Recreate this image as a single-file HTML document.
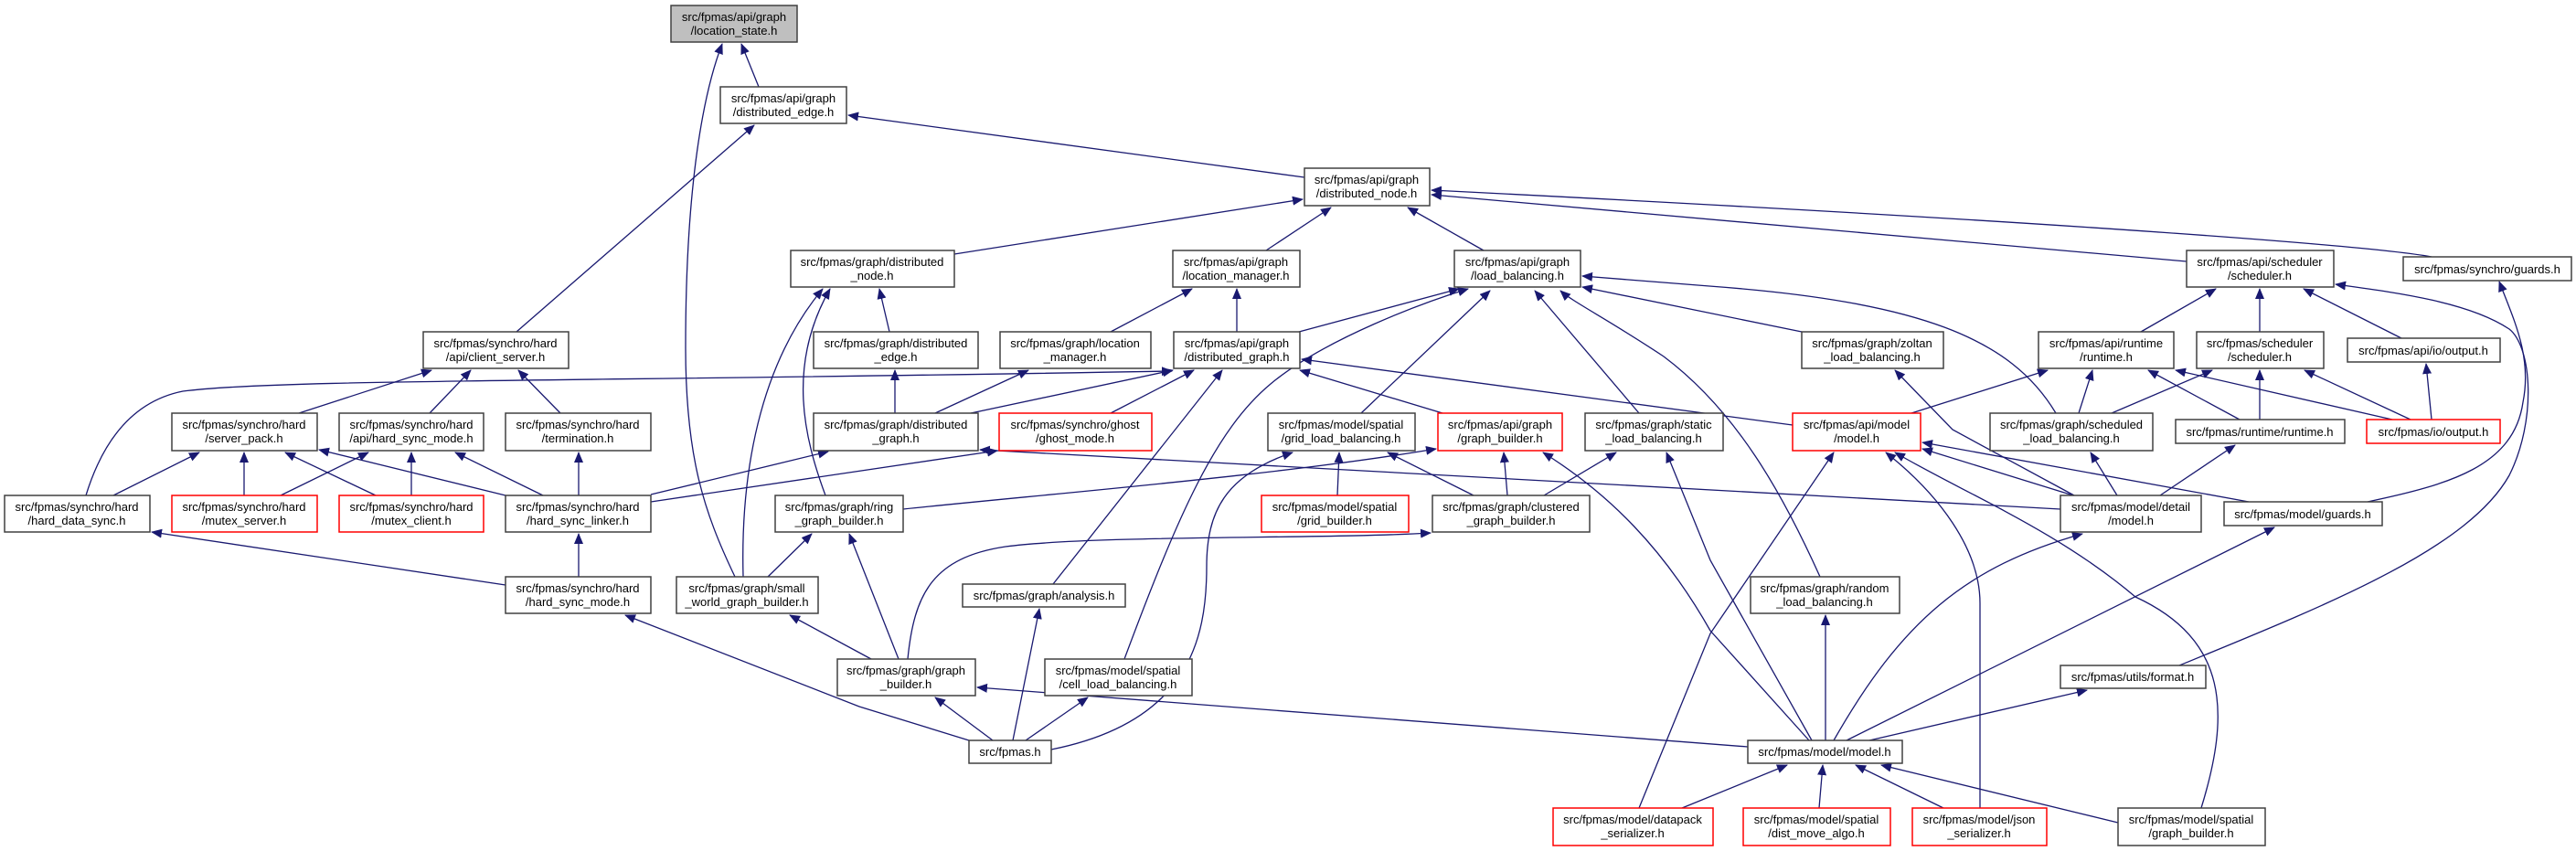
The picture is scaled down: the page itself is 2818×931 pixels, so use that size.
<!DOCTYPE html>
<html><head><meta charset="utf-8"><style>
html,body{margin:0;padding:0;background:#fff;}
svg{display:block;}
text{font-family:"Liberation Sans",Arial,sans-serif;font-size:13px;fill:#000;text-anchor:middle;}
.e{fill:none;stroke:#191970;stroke-width:1.3;marker-end:url(#a);}
.n{fill:#fff;stroke:#404040;stroke-width:1.5;}
.r{fill:#fff;stroke:#ff0000;stroke-width:1.5;}
.g{fill:#bfbfbf;stroke:#404040;stroke-width:1.5;}
</style></head><body>
<svg width="2818" height="931" viewBox="0 0 2818 931" xmlns="http://www.w3.org/2000/svg">
<defs><marker id="a" markerUnits="userSpaceOnUse" markerWidth="12" markerHeight="10" refX="11" refY="5" orient="auto"><path d="M0,0 L12,5 L0,10 z" fill="#191970"/></marker></defs>
<g>
<path class="e" d="M830,95 L811,48"/>
<path class="e" d="M804,631 C770,560 750,500 750,380 C750,200 770,100 790,48"/>
<path class="e" d="M1427,194 L928,126"/>
<path class="e" d="M565,363 L825,137"/>
<path class="e" d="M1044,278 L1425,218"/>
<path class="e" d="M1385,274 L1456,227"/>
<path class="e" d="M1623,274 L1540,227"/>
<path class="e" d="M2392,286 L1566,213"/>
<path class="e" d="M2660,281 C2600,270 2300,245 1566,208"/>
<path class="e" d="M973,363 L962,316"/>
<path class="e" d="M903,542 C880,480 860,400 908,316"/>
<path class="e" d="M813,631 C810,520 830,400 900,316"/>
<path class="e" d="M1215,363 L1304,316"/>
<path class="e" d="M1353,363 L1353,316"/>
<path class="e" d="M1421,363 L1596,316"/>
<path class="e" d="M1230,721 C1290,560 1330,470 1390,420 C1450,370 1560,330 1606,316"/>
<path class="e" d="M1489,452 L1630,318"/>
<path class="e" d="M1991,631 C1950,540 1900,450 1820,390 C1760,350 1720,330 1707,318"/>
<path class="e" d="M1793,452 L1679,318"/>
<path class="e" d="M2249,452 C2200,370 2100,330 1870,313 L1731,302"/>
<path class="e" d="M1971,363 L1731,314"/>
<path class="e" d="M1062,452 L1283,405"/>
<path class="e" d="M1215,452 L1306,405"/>
<path class="e" d="M1152,639 L1337,405"/>
<path class="e" d="M1578,452 L1422,405"/>
<path class="e" d="M94,542 C110,490 140,440 200,428 C300,415 600,418 1282,406"/>
<path class="e" d="M2254,557 L1072,492"/>
<path class="e" d="M712,549 L1091,493"/>
<path class="e" d="M712,541 L906,494"/>
<path class="e" d="M1961,465 L1424,393"/>
<path class="e" d="M979,452 L979,405"/>
<path class="e" d="M1023,452 L1125,405"/>
<path class="e" d="M988,557 C1150,540 1400,520 1571,491"/>
<path class="e" d="M1649,542 L1645,495"/>
<path class="e" d="M1979,810 L1871,690 C1820,600 1760,540 1688,495"/>
<path class="e" d="M1150,820 C1300,790 1320,700 1320,620 C1320,560 1340,520 1414,495"/>
<path class="e" d="M1463,542 L1465,495"/>
<path class="e" d="M1612,542 L1518,495"/>
<path class="e" d="M1689,542 L1768,495"/>
<path class="e" d="M1982,810 L1871,613 L1823,495"/>
<path class="e" d="M993,721 C1000,650 1020,610 1100,598 C1200,585 1450,590 1565,583"/>
<path class="e" d="M983,721 L929,584"/>
<path class="e" d="M840,631 L888,584"/>
<path class="e" d="M953,721 L864,673"/>
<path class="e" d="M1060,810 L940,773 L684,673"/>
<path class="e" d="M1086,810 L1023,763"/>
<path class="e" d="M1108,810 L1137,666"/>
<path class="e" d="M1122,810 L1190,763"/>
<path class="e" d="M1912,817 L1069,752"/>
<path class="e" d="M1793,884 L1871,693 L2006,495"/>
<path class="e" d="M2166,884 L2166,660 C2166,600 2120,540 2063,495"/>
<path class="e" d="M2408,884 C2440,780 2438,700 2336,653 C2250,580 2150,540 2073,495"/>
<path class="e" d="M2268,542 L2103,491"/>
<path class="e" d="M2460,549 L2103,484"/>
<path class="e" d="M2091,452 L2240,405"/>
<path class="e" d="M2274,452 L2289,405"/>
<path class="e" d="M2450,459 L2350,405"/>
<path class="e" d="M2617,459 L2380,405"/>
<path class="e" d="M2269,542 L2136,470 L2073,405"/>
<path class="e" d="M2310,452 L2420,405"/>
<path class="e" d="M2472,459 L2472,405"/>
<path class="e" d="M2637,459 L2521,405"/>
<path class="e" d="M2342,363 L2424,316"/>
<path class="e" d="M2472,363 L2472,316"/>
<path class="e" d="M2627,370 L2520,316"/>
<path class="e" d="M2384,728 C2550,660 2700,600 2745,520 C2775,460 2770,380 2745,360 C2700,330 2620,320 2555,311"/>
<path class="e" d="M2590,549 C2680,530 2750,510 2760,440 C2770,390 2750,350 2734,308"/>
<path class="e" d="M2660,459 L2654,398"/>
<path class="e" d="M2363,542 L2445,487"/>
<path class="e" d="M2316,542 L2287,495"/>
<path class="e" d="M2006,810 C2080,680 2150,620 2278,584"/>
<path class="e" d="M2020,810 L2488,577"/>
<path class="e" d="M2045,810 L2283,755"/>
<path class="e" d="M1997,810 L1997,673"/>
<path class="e" d="M1990,884 L1994,837"/>
<path class="e" d="M2126,884 L2030,837"/>
<path class="e" d="M2317,900 L2058,837"/>
<path class="e" d="M1840,884 L1955,837"/>
<path class="e" d="M633,631 L633,584"/>
<path class="e" d="M553,640 L166,582"/>
<path class="e" d="M633,542 L633,495"/>
<path class="e" d="M594,542 L498,495"/>
<path class="e" d="M553,542 L349,492"/>
<path class="e" d="M124,542 L218,495"/>
<path class="e" d="M267,542 L267,495"/>
<path class="e" d="M411,542 L312,495"/>
<path class="e" d="M307,542 L403,495"/>
<path class="e" d="M450,542 L450,495"/>
<path class="e" d="M327,452 L472,405"/>
<path class="e" d="M470,452 L515,405"/>
<path class="e" d="M613,452 L567,405"/>
</g>
<g>
<rect class="g" x="734" y="6" width="138" height="40"/><text x="803" y="23">src/fpmas/api/graph</text><text x="803" y="38">/location_state.h</text>
<rect class="n" x="788" y="95" width="138" height="40"/><text x="857" y="112">src/fpmas/api/graph</text><text x="857" y="127">/distributed_edge.h</text>
<rect class="n" x="1427" y="184" width="137" height="41"/><text x="1495" y="201">src/fpmas/api/graph</text><text x="1495" y="216">/distributed_node.h</text>
<rect class="n" x="865" y="274" width="179" height="40"/><text x="954" y="291">src/fpmas/graph/distributed</text><text x="954" y="306">_node.h</text>
<rect class="n" x="1283" y="274" width="139" height="40"/><text x="1352" y="291">src/fpmas/api/graph</text><text x="1352" y="306">/location_manager.h</text>
<rect class="n" x="1591" y="274" width="138" height="40"/><text x="1660" y="291">src/fpmas/api/graph</text><text x="1660" y="306">/load_balancing.h</text>
<rect class="n" x="2392" y="274" width="161" height="40"/><text x="2472" y="291">src/fpmas/api/scheduler</text><text x="2472" y="306">/scheduler.h</text>
<rect class="n" x="2629" y="281" width="184" height="26"/><text x="2721" y="299">src/fpmas/synchro/guards.h</text>
<rect class="n" x="463" y="363" width="159" height="40"/><text x="542" y="380">src/fpmas/synchro/hard</text><text x="542" y="395">/api/client_server.h</text>
<rect class="n" x="890" y="363" width="180" height="40"/><text x="980" y="380">src/fpmas/graph/distributed</text><text x="980" y="395">_edge.h</text>
<rect class="n" x="1094" y="363" width="165" height="40"/><text x="1176" y="380">src/fpmas/graph/location</text><text x="1176" y="395">_manager.h</text>
<rect class="n" x="1284" y="363" width="138" height="40"/><text x="1353" y="380">src/fpmas/api/graph</text><text x="1353" y="395">/distributed_graph.h</text>
<rect class="n" x="1971" y="363" width="155" height="40"/><text x="2048" y="380">src/fpmas/graph/zoltan</text><text x="2048" y="395">_load_balancing.h</text>
<rect class="n" x="2230" y="363" width="148" height="40"/><text x="2304" y="380">src/fpmas/api/runtime</text><text x="2304" y="395">/runtime.h</text>
<rect class="n" x="2403" y="363" width="139" height="40"/><text x="2472" y="380">src/fpmas/scheduler</text><text x="2472" y="395">/scheduler.h</text>
<rect class="n" x="2568" y="370" width="167" height="26"/><text x="2651" y="388">src/fpmas/api/io/output.h</text>
<rect class="n" x="188" y="452" width="159" height="41"/><text x="267" y="469">src/fpmas/synchro/hard</text><text x="267" y="484">/server_pack.h</text>
<rect class="n" x="371" y="452" width="158" height="41"/><text x="450" y="469">src/fpmas/synchro/hard</text><text x="450" y="484">/api/hard_sync_mode.h</text>
<rect class="n" x="553" y="452" width="159" height="41"/><text x="632" y="469">src/fpmas/synchro/hard</text><text x="632" y="484">/termination.h</text>
<rect class="n" x="890" y="452" width="180" height="41"/><text x="980" y="469">src/fpmas/graph/distributed</text><text x="980" y="484">_graph.h</text>
<rect class="r" x="1093" y="452" width="167" height="41"/><text x="1176" y="469">src/fpmas/synchro/ghost</text><text x="1176" y="484">/ghost_mode.h</text>
<rect class="n" x="1387" y="452" width="161" height="41"/><text x="1467" y="469">src/fpmas/model/spatial</text><text x="1467" y="484">/grid_load_balancing.h</text>
<rect class="r" x="1573" y="452" width="136" height="41"/><text x="1641" y="469">src/fpmas/api/graph</text><text x="1641" y="484">/graph_builder.h</text>
<rect class="n" x="1734" y="452" width="151" height="41"/><text x="1809" y="469">src/fpmas/graph/static</text><text x="1809" y="484">_load_balancing.h</text>
<rect class="r" x="1961" y="452" width="140" height="41"/><text x="2031" y="469">src/fpmas/api/model</text><text x="2031" y="484">/model.h</text>
<rect class="n" x="2177" y="452" width="178" height="41"/><text x="2266" y="469">src/fpmas/graph/scheduled</text><text x="2266" y="484">_load_balancing.h</text>
<rect class="n" x="2380" y="459" width="185" height="26"/><text x="2472" y="477">src/fpmas/runtime/runtime.h</text>
<rect class="r" x="2589" y="459" width="146" height="26"/><text x="2662" y="477">src/fpmas/io/output.h</text>
<rect class="n" x="5" y="542" width="159" height="40"/><text x="84" y="559">src/fpmas/synchro/hard</text><text x="84" y="574">/hard_data_sync.h</text>
<rect class="r" x="188" y="542" width="159" height="40"/><text x="267" y="559">src/fpmas/synchro/hard</text><text x="267" y="574">/mutex_server.h</text>
<rect class="r" x="371" y="542" width="158" height="40"/><text x="450" y="559">src/fpmas/synchro/hard</text><text x="450" y="574">/mutex_client.h</text>
<rect class="n" x="553" y="542" width="159" height="40"/><text x="632" y="559">src/fpmas/synchro/hard</text><text x="632" y="574">/hard_sync_linker.h</text>
<rect class="n" x="848" y="542" width="140" height="40"/><text x="918" y="559">src/fpmas/graph/ring</text><text x="918" y="574">_graph_builder.h</text>
<rect class="r" x="1380" y="542" width="161" height="40"/><text x="1460" y="559">src/fpmas/model/spatial</text><text x="1460" y="574">/grid_builder.h</text>
<rect class="n" x="1567" y="542" width="172" height="40"/><text x="1653" y="559">src/fpmas/graph/clustered</text><text x="1653" y="574">_graph_builder.h</text>
<rect class="n" x="2254" y="542" width="154" height="40"/><text x="2331" y="559">src/fpmas/model/detail</text><text x="2331" y="574">/model.h</text>
<rect class="n" x="2433" y="549" width="173" height="26"/><text x="2519" y="567">src/fpmas/model/guards.h</text>
<rect class="n" x="553" y="631" width="159" height="40"/><text x="632" y="648">src/fpmas/synchro/hard</text><text x="632" y="663">/hard_sync_mode.h</text>
<rect class="n" x="740" y="631" width="155" height="40"/><text x="817" y="648">src/fpmas/graph/small</text><text x="817" y="663">_world_graph_builder.h</text>
<rect class="n" x="1053" y="639" width="178" height="25"/><text x="1142" y="656">src/fpmas/graph/analysis.h</text>
<rect class="n" x="1915" y="631" width="163" height="40"/><text x="1996" y="648">src/fpmas/graph/random</text><text x="1996" y="663">_load_balancing.h</text>
<rect class="n" x="916" y="721" width="151" height="40"/><text x="991" y="738">src/fpmas/graph/graph</text><text x="991" y="753">_builder.h</text>
<rect class="n" x="1143" y="721" width="161" height="40"/><text x="1223" y="738">src/fpmas/model/spatial</text><text x="1223" y="753">/cell_load_balancing.h</text>
<rect class="n" x="2254" y="728" width="159" height="25"/><text x="2333" y="745">src/fpmas/utils/format.h</text>
<rect class="n" x="1060" y="810" width="90" height="25"/><text x="1105" y="827">src/fpmas.h</text>
<rect class="n" x="1912" y="810" width="169" height="25"/><text x="1996" y="827">src/fpmas/model/model.h</text>
<rect class="r" x="1699" y="884" width="175" height="41"/><text x="1786" y="901">src/fpmas/model/datapack</text><text x="1786" y="916">_serializer.h</text>
<rect class="r" x="1907" y="884" width="161" height="41"/><text x="1987" y="901">src/fpmas/model/spatial</text><text x="1987" y="916">/dist_move_algo.h</text>
<rect class="r" x="2092" y="884" width="147" height="41"/><text x="2165" y="901">src/fpmas/model/json</text><text x="2165" y="916">_serializer.h</text>
<rect class="n" x="2317" y="884" width="161" height="41"/><text x="2397" y="901">src/fpmas/model/spatial</text><text x="2397" y="916">/graph_builder.h</text>
</g>
</svg>
</body></html>
